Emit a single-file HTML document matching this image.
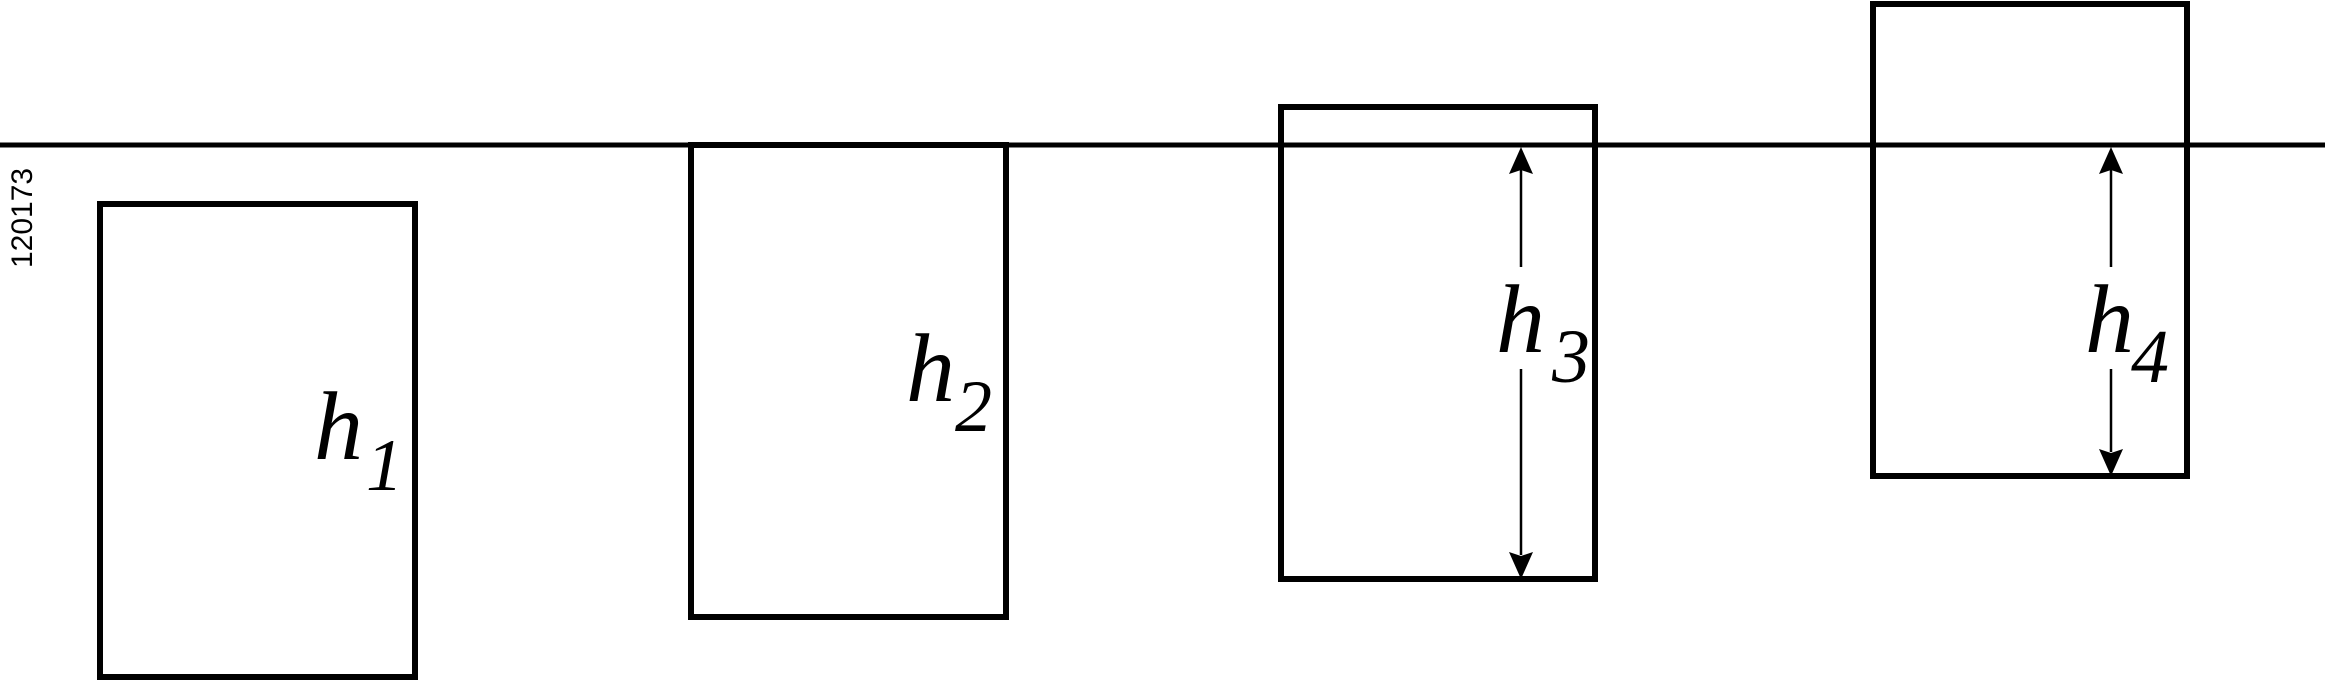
<!DOCTYPE html>
<html><head><meta charset="utf-8"><style>
html,body{margin:0;padding:0;background:#fff;}
svg{display:block;}
.m{font-family:"Liberation Serif",serif;font-style:italic;fill:#000;}
</style></head><body>
<svg width="2325" height="680" viewBox="0 0 2325 680" xmlns="http://www.w3.org/2000/svg">
<line x1="0" y1="145" x2="2325" y2="145" stroke="#000" stroke-width="5"/>
<g fill="none" stroke="#000" stroke-width="6">
<rect x="100" y="204" width="315" height="473"/>
<rect x="691" y="145" width="315" height="472"/>
<rect x="1281" y="107" width="314" height="472"/>
<rect x="1873" y="4" width="314" height="472"/>
</g>
<g stroke="#000" stroke-width="2.5">
<line x1="1521" y1="170" x2="1521" y2="267"/>
<line x1="1521" y1="369" x2="1521" y2="555"/>
<line x1="2111" y1="170" x2="2111" y2="267"/>
<line x1="2111" y1="369" x2="2111" y2="452"/>
</g>
<g fill="#000">
<polygon points="1521,147 1509,174 1521,170 1533,174"/>
<polygon points="1521,579 1509,552 1521,556 1533,552"/>
<polygon points="2111,147 2099,174 2111,170 2123,174"/>
<polygon points="2111,476 2099,449 2111,453 2123,449"/>
</g>
<text class="m" x="314" y="459" font-size="98">h</text>
<text class="m" x="366" y="490" font-size="74">1</text>
<text class="m" x="906" y="401" font-size="98">h</text>
<text class="m" x="955" y="431" font-size="74">2</text>
<text class="m" x="1496" y="352" font-size="98">h</text>
<text class="m" x="1552" y="382" font-size="76">3</text>
<text class="m" x="2085" y="352" font-size="98">h</text>
<text class="m" x="2131" y="382" font-size="76">4</text>
<text x="32" y="268" font-family="Liberation Sans, sans-serif" font-size="30" transform="rotate(-90 32 268)" fill="#000">120173</text>
</svg>
</body></html>
